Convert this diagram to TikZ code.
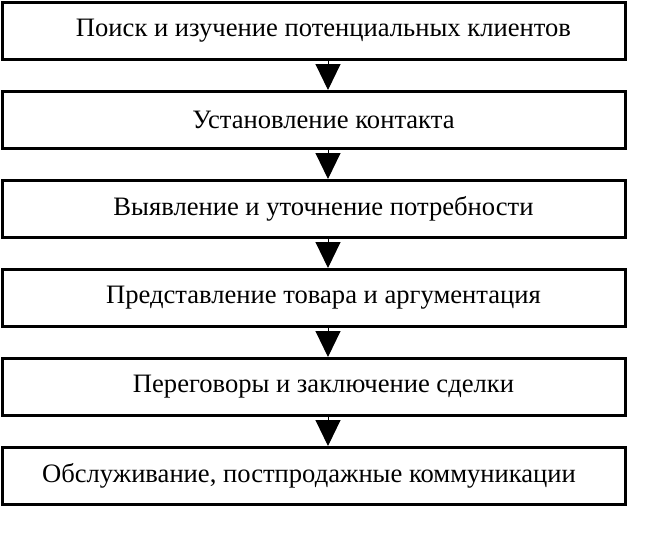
\documentclass[tikz,border=0pt]{standalone}
\usepackage{fontspec}
\setmainfont{Liberation Serif}
\usetikzlibrary{arrows.meta}
\usetikzlibrary{positioning}
\tikzstyle{arrow} = [line width=1pt,-{Triangle[width=25pt,length=26pt]}]
\tikzstyle{stage} = [
    rectangle, minimum width=623pt, minimum height=57pt, text centered,
    draw=black, line width=3pt, font=\fontsize{26.6pt}{30pt}\selectfont,
    execute at begin node={\hspace*{19pt}}]

\begin{document}
\begin{tikzpicture}[x=1pt,y=1pt]
\useasboundingbox (0,0) rectangle (647,-539);

\node (search) [stage] at (314,-31) {Поиск и изучение потенциальных клиентов};

\node (contact) [stage,below=29pt of search] {Установление контакта};

\node (needs) [stage,below=29pt of contact] {Выявление и уточнение потребности};

\node (offer) [stage,below=29pt of needs] {Представление товара и аргументация};

\node (deal) [stage,below=29pt of offer] {Переговоры и заключение сделки};

\node (service) [stage,below=29pt of deal,
    execute at end node={\hspace*{29pt}}] {Обслуживание, постпродажные коммуникации};

\draw [arrow] ([xshift=14pt]search.south) -- ([xshift=14pt]contact.north);
\draw [arrow] ([xshift=14pt]contact.south) -- ([xshift=14pt]needs.north);
\draw [arrow] ([xshift=14pt]needs.south) -- ([xshift=14pt]offer.north);
\draw [arrow] ([xshift=14pt]offer.south) -- ([xshift=14pt]deal.north);
\draw [arrow] ([xshift=14pt]deal.south) -- ([xshift=14pt]service.north);
\end{tikzpicture}
\end{document}
